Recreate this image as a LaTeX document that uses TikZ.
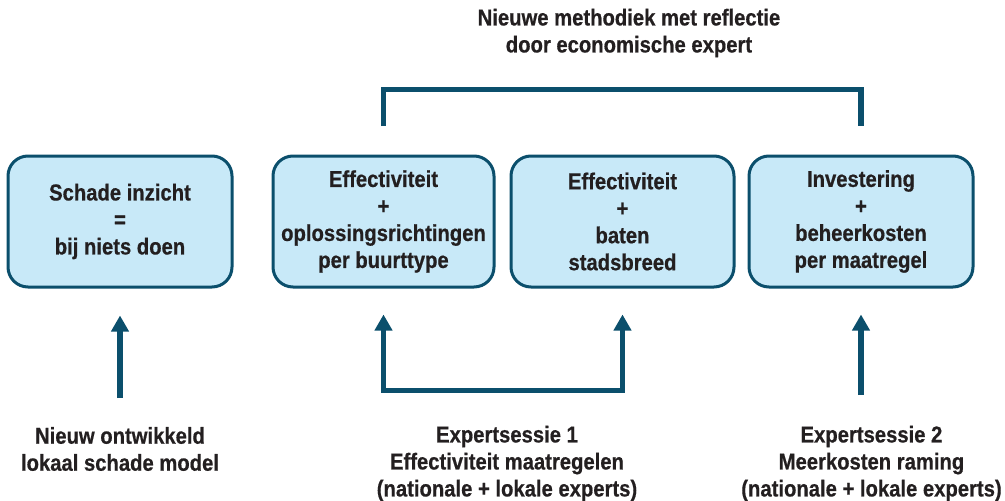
\documentclass[tikz,border=0pt]{standalone}
\usepackage{fontspec}
\setmainfont{Liberation Sans}[FakeStretch=0.88,BoldFeatures={FakeBold=0.6}]
\usetikzlibrary{arrows.meta,calc}
\definecolor{boxfill}{HTML}{C8E9F8}
\definecolor{teal}{HTML}{0B4F6C}
\definecolor{ink}{HTML}{231F20}
\begin{document}
\begin{tikzpicture}[x=1pt,y=-1pt,
  txt/.style={font=\bfseries\fontsize{23}{27}\selectfont, text=ink, align=center, inner sep=0pt},
  stepbox/.style={txt, draw=teal, line width=3pt, fill=boxfill, rounded corners=20pt,
    minimum width=224pt, minimum height=131pt},
  conn/.style={draw=teal, line width=5.5pt},
  arr/.style={conn, -{Triangle[length=16pt,width=17pt]}},
  biarr/.style={conn, {Triangle[length=16pt,width=17pt]}-{Triangle[length=16pt,width=17pt]}}]
\useasboundingbox (0,0) rectangle (1005,501);

\node[stepbox] (b1) at (120,221.5) {Schade inzicht\\=\\bij niets doen};
\node[stepbox, minimum width=221pt] (b2) at (383.5,221.5) {Effectiviteit\\+\\oplossingsrichtingen\\per buurttype};
\node[stepbox, minimum width=223pt] (b3) at (622.5,221.5) {Effectiviteit\\+\\baten\\stadsbreed};
\node[stepbox] (b4) at (861,221.5) {Investering\\+\\beheerkosten\\per maatregel};

\node[txt] (title) at (629,33) {Nieuwe methodiek met reflectie\\door economische expert};
\node[txt] (l1) at (120,449) {Nieuw ontwikkeld\\lokaal schade model};
\node[txt] (l2) at (507,463.5) {Expertsessie 1\\Effectiviteit maatregelen\\(nationale + lokale experts)};
\node[txt] (l3) at (871.5,463.5) {Expertsessie 2\\Meerkosten raming\\(nationale + lokale experts)};

\coordinate (bt) at (620,89.5);
\draw[conn] ($(b2.north)+(0,-28.5)$) |- (bt) -| ($(b4.north)+(0,-28.5)$);

\coordinate (a1) at (120,398);
\draw[arr] (a1) -- ($(b1.south)+(0,27)$);

\coordinate (mb) at (500,390.5);
\draw[biarr] ($(b2.south)+(0,26)$) |- (mb) -| ($(b3.south)+(0,26)$);

\coordinate (a3) at (861,395);
\draw[arr] (a3) -- ($(b4.south)+(0,26)$);
\end{tikzpicture}
\end{document}
